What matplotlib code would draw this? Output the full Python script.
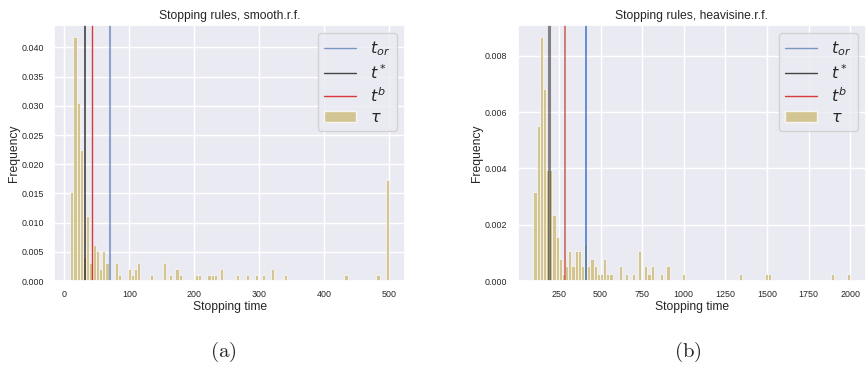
import numpy as np
import seaborn as sns
from matplotlib import pyplot as plt
from matplotlib.lines import Line2D
from matplotlib.patches import Patch

sns.set_theme(style='darkgrid')
plt.rcParams['font.family'] = ['Liberation Sans', 'DejaVu Sans']

# histogram bins: (min, max, number of bins), bin index -> count (200 runs)
smooth_range = (9, 500)
smooth_bins = [0, 1, 2, 3, 4, 5, 6, 7, 8, 9, 10, 11, 14, 15, 18, 19, 20, 21,
               25, 29, 31, 33, 34, 39, 40, 43, 44, 45, 47, 52, 55, 58, 60,
               63, 67, 86, 96, 99]
smooth_counts = [15, 41, 30, 22, 4, 11, 3, 6, 5, 2, 5, 3, 3, 1, 2, 1, 2, 3,
                 1, 3, 1, 2, 1, 1, 1, 1, 1, 1, 2, 1, 1, 1, 1,
                 2, 1, 1, 1, 17]
smooth_lines = {'t_or': 70.3, 't_star': 31.3, 't_b': 43.1}

heavi_range = (96, 2000)
heavi_bins = [0, 1, 2, 3, 4, 5, 6, 7, 8, 9, 10, 11, 12, 13, 14, 15, 16, 17,
              18, 19, 20, 21, 22, 23, 24, 27, 29, 31, 33, 35, 36, 37, 40,
              42, 47, 65, 73, 74, 94, 99]
heavi_counts = [12, 21, 33, 26, 15, 15, 9, 6, 3, 1, 2, 4, 2, 4, 4, 2, 5, 2,
                3, 2, 1, 1, 3, 1, 1, 2, 1, 1, 4, 2, 1, 2, 1,
                2, 1, 1, 1, 1, 1, 1]
heavi_lines = {'t_or': 412, 't_star': 189, 't_b': 285}

n_bins = 100
bar_color = '#CCB974'

fig = plt.figure(figsize=(8.66, 3.66), dpi=100)
ax1 = fig.add_axes([0.0627, 0.2322, 0.405, 0.6995])
ax2 = fig.add_axes([0.5976, 0.2322, 0.4024, 0.6995])


def draw(ax, rng, bins, counts, lines, styles, title):
    edges = np.linspace(rng[0], rng[1], n_bins + 1)
    centers = (edges[:-1] + edges[1:]) / 2
    ax.axvline(lines['t_or'], **styles[0])
    ax.axvline(lines['t_star'], **styles[1])
    ax.axvline(lines['t_b'], **styles[2])
    ax.hist(centers[bins], bins=edges, weights=counts, density=True,
            color=bar_color, alpha=0.75, edgecolor='white', linewidth=0.6)
    ax.set_title(title, fontsize=8.7, pad=4)
    ax.set_xlabel('Stopping time', fontsize=8.7, labelpad=1.5)
    ax.set_ylabel('Frequency', fontsize=8.7, labelpad=1)
    ax.tick_params(labelsize=6.4, pad=1.5)
    ax.tick_params(axis='x', pad=0.5)
    handles = [Line2D([], [], color='#4C72B0', alpha=0.7, lw=1),
               Line2D([], [], color='k', alpha=0.8, lw=1),
               Line2D([], [], color='#d62728', alpha=0.9, lw=1),
               Patch(facecolor=bar_color, alpha=0.75, edgecolor='white')]
    ax.legend(handles, [r'$t_{or}$', r'$t^*$', r'$t^b$', r'$\tau$'],
              loc='upper right', fontsize=11.5, frameon=True,
              handlelength=2.0, handletextpad=0.9, labelspacing=0.3,
              borderaxespad=0.5)


draw(ax1, smooth_range, smooth_bins, smooth_counts, smooth_lines,
     [dict(color='#4C72B0', alpha=0.6, lw=1.5),
      dict(color='k', alpha=0.8, lw=1.2),
      dict(color='#d62728', alpha=0.9, lw=1.0)],
     'Stopping rules, smooth.r.f.')
ax1.set_xticks([0, 100, 200, 300, 400, 500])

draw(ax2, heavi_range, heavi_bins, heavi_counts, heavi_lines,
     [dict(color='#2f66c4', alpha=0.9, lw=1.1),
      dict(color='k', alpha=0.5, lw=2.2),
      dict(color='#c0392b', alpha=0.8, lw=1.1)],
     'Stopping rules, heavisine.r.f.')
ax2.set_xticks(np.arange(250, 2001, 250))

fig.text(0.2575, 0.005, r'$\mathrm{(a)}$', math_fontfamily='cm',
         fontsize=15, ha='center', va='bottom')
fig.text(0.7945, 0.005, r'$\mathrm{(b)}$', math_fontfamily='cm',
         fontsize=15, ha='center', va='bottom')

fig.savefig('out.png', dpi=100)
